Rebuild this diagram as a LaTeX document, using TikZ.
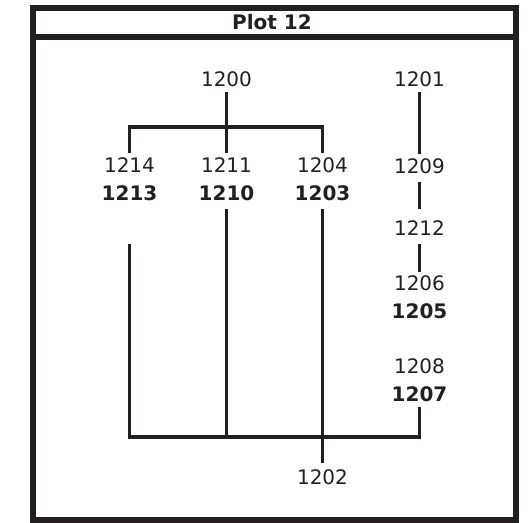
\documentclass[tikz,border=0pt]{standalone}
\usepackage{fontspec}
\setmainfont{DejaVu Sans}
\definecolor{ink}{HTML}{231F20}
\begin{document}
\begin{tikzpicture}[x=1bp,y=-1bp,
  lbl/.style={inner sep=0pt,outer sep=0pt,text height=14.6bp,text depth=0bp,
    font=\fontsize{20bp}{24bp}\selectfont,text=ink},
  blbl/.style={lbl,font=\fontsize{20bp}{24bp}\selectfont\bfseries},
  link/.style={draw=ink,line width=3.5bp},
  frame/.style={draw=ink,line width=6bp}]
\useasboundingbox (0,0) rectangle (531,523);

% outer frame with title bar
\draw[frame] (33,8) rectangle (516,519.7);
\draw[frame] (33,37) -- (516,37);
\node[blbl] (title) at (272,22) {Plot 12};

% labels
\node[lbl]  (n1200) at (226.5,79)   {1200};
\node[lbl]  (n1214) at (129.5,165.5) {1214};
\node[blbl] (n1213) at (129.5,193)   {1213};
\node[lbl]  (n1211) at (226.5,165.5) {1211};
\node[blbl] (n1210) at (226.5,193)   {1210};
\node[lbl]  (n1204) at (322.5,165.5) {1204};
\node[blbl] (n1203) at (322.5,193)   {1203};
\node[lbl]  (n1202) at (322.5,477)   {1202};

\node[lbl]  (n1201) at (419.5,79)    {1201};
\node[lbl]  (n1209) at (419.5,166)   {1209};
\node[lbl]  (n1212) at (419.5,228.5) {1212};
\node[lbl]  (n1206) at (419.5,283.5) {1206};
\node[blbl] (n1205) at (419.5,311)   {1205};
\node[lbl]  (n1208) at (419.5,366.5) {1208};
\node[blbl] (n1207) at (419.5,394)   {1207};

% bar heights
\coordinate (upbar)  at (0,127);
\coordinate (lowbar) at (0,437);

% upper branching
\draw[link,shorten <=5.4bp,shorten >=5bp] (n1200) -- (n1211);
\draw[link,shorten <=5bp,shorten >=5bp]
  (n1214.north) -- (n1214.north |- upbar) -- (n1204.north |- upbar) -- (n1204.north);

% right column
\draw[link,shorten <=5.4bp,shorten >=5bp] (n1201) -- (n1209);
\draw[link,shorten <=9bp,shorten >=12bp] (n1209) -- (n1212);
\draw[link,shorten <=8.2bp,shorten >=4.5bp] (n1212) -- (n1206);

% lower joining
\draw[link,shorten <=9bp] (n1210.south) -- (n1210.south |- lowbar);
\draw[link,shorten <=9bp,shorten >=6.4bp] (n1203) -- (n1202);
\draw[link,shorten <=43.7bp,shorten >=6bp]
  (n1213.south) -- (n1213.south |- lowbar) -- (n1207.south |- lowbar) -- (n1207.south);
\end{tikzpicture}
\end{document}
